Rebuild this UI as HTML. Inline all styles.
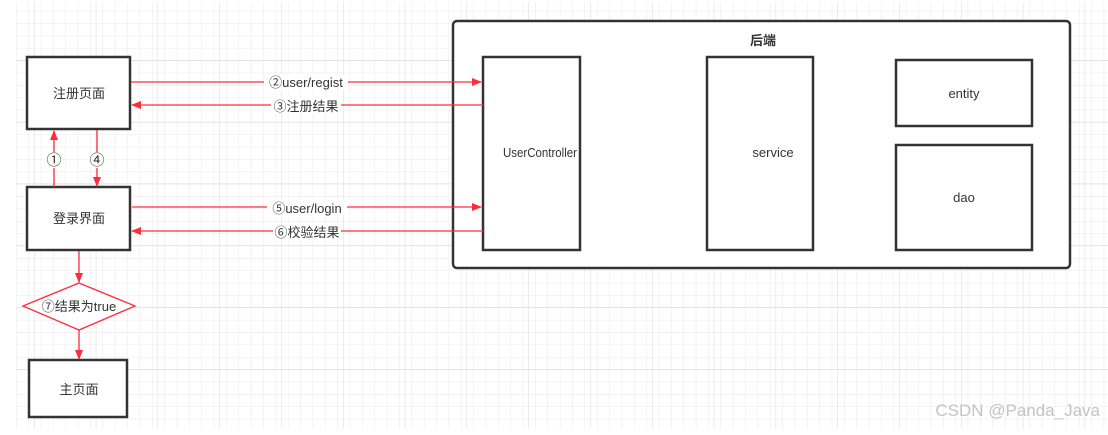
<!DOCTYPE html>
<html><head><meta charset="utf-8"><style>
body{margin:0;background:#fff;}
svg text{font-family:"Liberation Sans","Noto Sans CJK SC",sans-serif;}
</style></head><body>
<svg width="1108" height="430" xmlns="http://www.w3.org/2000/svg">
<defs>
<pattern id="g" x="16" y="-1.5" width="12.36" height="12.36" patternUnits="userSpaceOnUse">
<path d="M0 0H12.36M0 0V12.36" stroke="#e9e9e9" stroke-width="1" fill="none"/></pattern>
<pattern id="G" x="34" y="60" width="61.8" height="61.8" patternUnits="userSpaceOnUse">
<path d="M0 0H61.8M0 0V61.8" stroke="#d8d8d8" stroke-width="1" fill="none"/></pattern>
<marker id="a" markerWidth="10" markerHeight="8" refX="9" refY="4" orient="auto" markerUnits="userSpaceOnUse">
<path d="M0 0L10 4L0 8z" fill="#ff2d3c"/></marker>
</defs>
<rect x="16" y="2" width="1092" height="427" fill="url(#g)"/>
<rect x="16" y="2" width="1092" height="427" fill="url(#G)"/>
<g fill="#fff" stroke="#333" stroke-width="2.5">
<rect x="453" y="21" width="617" height="247" rx="4"/>
<rect x="483" y="57" width="97" height="193"/>
<rect x="707" y="57" width="106" height="193"/>
<rect x="896" y="60" width="136" height="66"/>
<rect x="896" y="145" width="136" height="105"/>
<rect x="27" y="57" width="103" height="72"/>
<rect x="27" y="187" width="103" height="63"/>
<rect x="29" y="360" width="98" height="57"/>
</g>
<polygon points="23,306 79,283 135,306 79,330" fill="#fff" stroke="#ff2d3c" stroke-width="1.3"/>
<g stroke="#ff2d3c" stroke-width="1.3" fill="none">
<path d="M131 82H481" marker-end="url(#a)"/>
<path d="M483 105H132" marker-end="url(#a)"/>
<path d="M132 207H481" marker-end="url(#a)"/>
<path d="M483 231H132" marker-end="url(#a)"/>
<path d="M54 187V131" marker-end="url(#a)"/>
<path d="M97 130V186" marker-end="url(#a)"/>
<path d="M79 251V282" marker-end="url(#a)"/>
<path d="M79 330V359" marker-end="url(#a)"/>
</g>
<g fill="#fff">
<rect x="264" y="74" width="84" height="16"/>
<rect x="271" y="97" width="70" height="16"/>
<rect x="267" y="199" width="80" height="16"/>
<rect x="273" y="223" width="68" height="16"/>
<rect x="46" y="152" width="16" height="16"/>
<rect x="89" y="152" width="16" height="16"/>
</g>
<g font-size="13" fill="#333" text-anchor="middle">
<text x="306" y="87">②user/regist</text>
<text x="306" y="111">③注册结果</text>
<text x="307" y="213">⑤user/login</text>
<text x="307" y="237">⑥校验结果</text>
<text x="54" y="165" font-size="15">①</text>
<text x="97" y="165" font-size="15">④</text>
<text x="79" y="311">⑦结果为true</text>
<text x="79" y="98">注册页面</text>
<text x="79" y="223">登录界面</text>
<text x="79" y="394">主页面</text>
<text x="540" y="157" textLength="74" lengthAdjust="spacingAndGlyphs">UserController</text>
<text x="773" y="157">service</text>
<text x="964" y="98">entity</text>
<text x="964" y="202">dao</text>
<text x="763" y="45" font-weight="bold">后端</text>
</g>
<text x="1100" y="416" font-size="17" fill="#c4c4c4" text-anchor="end">CSDN @Panda_Java</text>
</svg>
</body></html>
